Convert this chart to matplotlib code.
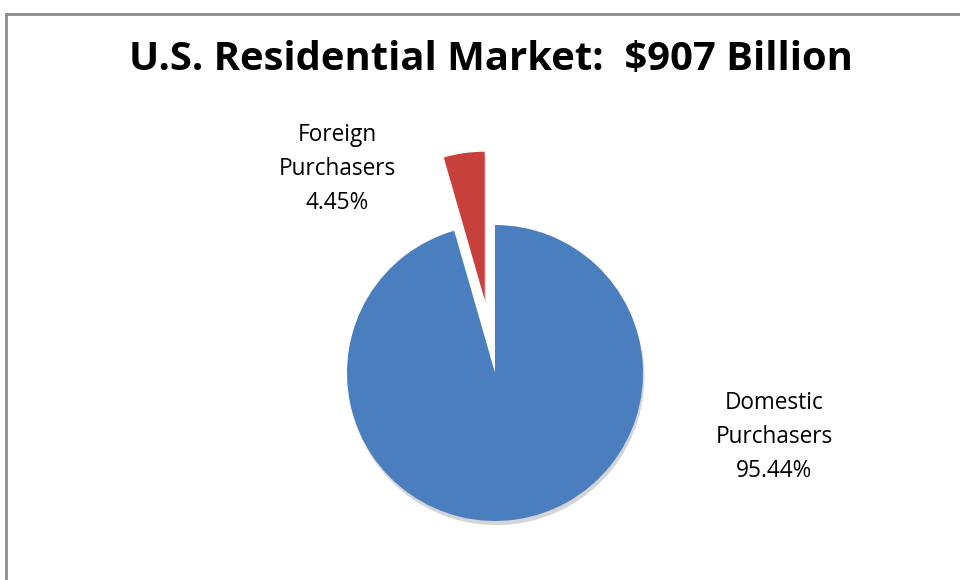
import matplotlib.pyplot as plt
from matplotlib.lines import Line2D
import matplotlib.patheffects as pe

# data
labels = ["Domestic\nPurchasers", "Foreign\nPurchasers"]
shares = [95.44, 4.45]
colors = ["#4A7EBF", "#C8403C"]
explode_frac = [0.0, 0.5]
title = "U.S. Residential Market:  $907 Billion"

W, H = 960, 580
fig = plt.figure(figsize=(W / 100, H / 100), dpi=100)
ax = fig.add_axes([0, 0, 1, 1])

R = 148
cx, cy = 495, H - 373

wedges, _ = ax.pie(shares, colors=colors, startangle=90, counterclock=False,
                   radius=R, center=(cx, cy), explode=[e * R for e in explode_frac],
                   wedgeprops=dict(edgecolor="none"), frame=True)
# soft drop shadow like the Excel original
for w in wedges:
    w.set_path_effects([pe.SimplePatchShadow(offset=(1, -3), shadow_rgbFace="#888888", alpha=0.35),
                        pe.Normal()])

ax.set_xlim(0, W)
ax.set_ylim(0, H)
ax.set_aspect("equal")
ax.axis("off")

# frame (only left and top edges visible)
ax.add_line(Line2D([6, 6], [H - 14, 0], color="#8c8c8c", lw=2))
ax.add_line(Line2D([6, W], [H - 14, H - 14], color="#8c8c8c", lw=2))

ax.text(491, H - 60, title, ha="center", va="center", fontsize=28.8,
        fontweight="bold", family="Open Sans")

font = dict(fontsize=16.3, family="Open Sans", ha="center", va="center", linespacing=1.53)
ax.text(337, H - 169, f"{labels[1]}\n{shares[1]:.2f}%", **font)
ax.text(774, H - 437, f"{labels[0]}\n{shares[0]:.2f}%", **font)

fig.savefig("out.png", dpi=100)
